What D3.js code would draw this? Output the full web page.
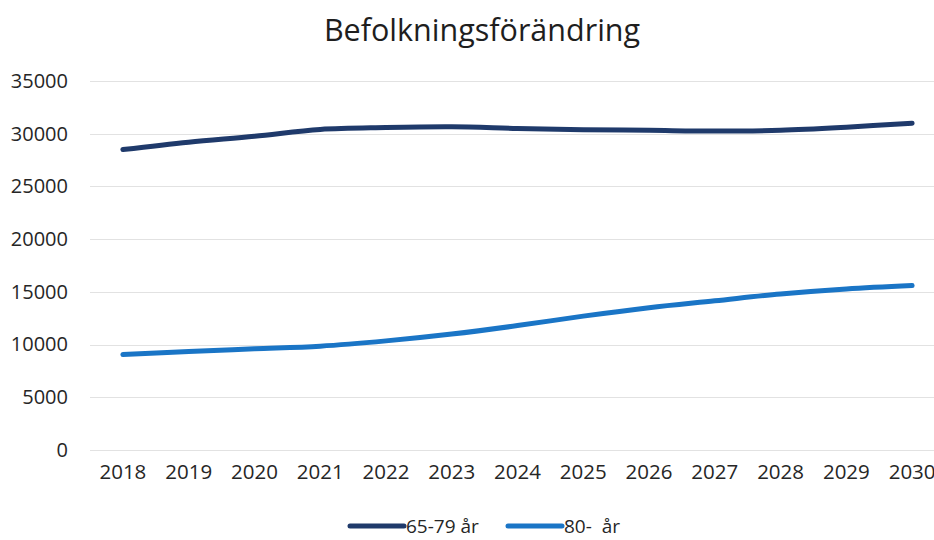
<!DOCTYPE html>
<html>
<head>
<meta charset="utf-8">
<script src="https://cdn.jsdelivr.net/npm/d3@7"></script>
<style>
  body { margin: 0; background: #fff; }
  svg { font-family: "Open Sans", sans-serif; }
</style>
</head>
<body>
<div class="viz"></div>
<script>
const years = [2018, 2019, 2020, 2021, 2022, 2023, 2024, 2025, 2026, 2027, 2028, 2029, 2030];
const aged6579 = [28500, 29200, 29750, 30400, 30580, 30650, 30500, 30380, 30320, 30250, 30330, 30620, 31000];
const aged80 = [9050, 9350, 9600, 9850, 10350, 11000, 11800, 12700, 13500, 14150, 14800, 15280, 15600];
const yTicks = [0, 5000, 10000, 15000, 20000, 25000, 30000, 35000];
const seriesNames = ["65-79 år", "80-  år"];
const title = "Befolkningsförändring";

const width = 934, height = 540;
const padding = { top: 81, bottom: 90, left: 90, right: -11 };

const series = [
  { name: seriesNames[0], values: aged6579, color: "#1f3a6b" },
  { name: seriesNames[1], values: aged80, color: "#1a75c6" }
];

var svg = d3.select(".viz")
  .append("svg")
  .attr("width", width)
  .attr("height", height);

var xscale = d3.scaleBand()
  .domain(years)
  .range([padding.left, width - padding.right]);

var yscale = d3.scaleLinear()
  .domain([0, 35000])
  .range([height - padding.bottom, padding.top]);

// gridlines
svg.append("g")
  .selectAll("line")
  .data(yTicks)
  .enter()
  .append("line")
  .attr("x1", padding.left)
  .attr("x2", width - padding.right)
  .attr("y1", (d) => Math.round(yscale(d)) + 0.5)
  .attr("y2", (d) => Math.round(yscale(d)) + 0.5)
  .style("stroke", "#e2e2e2")
  .style("stroke-width", 1);

// y axis
var yaxis = d3.axisLeft(yscale)
  .tickValues(yTicks)
  .tickSize(0)
  .tickPadding(22)
  .tickFormat(d3.format("d"));

svg.append("g")
  .attr("id", "y-axis")
  .attr("transform", "translate(" + padding.left + ",0)")
  .call(yaxis)
  .call((g) => g.select(".domain").remove())
  .selectAll("text")
  .style("font-size", "20px")
  .style("font-family", "Open Sans, sans-serif")
  .style("fill", "#262626");

// x axis (last label runs off the right edge, as in the original)
var xaxis = d3.axisBottom(xscale)
  .tickSize(0)
  .tickPadding(14);

svg.append("g")
  .attr("id", "x-axis")
  .attr("transform", "translate(0," + (height - padding.bottom) + ")")
  .call(xaxis)
  .call((g) => g.select(".domain").remove())
  .selectAll("text")
  .style("font-size", "20.5px")
  .style("font-family", "Open Sans, sans-serif")
  .style("fill", "#262626");

// lines
var line = d3.line()
  .x((d, i) => xscale(years[i]) + xscale.bandwidth() / 2)
  .y((d) => yscale(d))
  .curve(d3.curveCatmullRom.alpha(0.5));

svg.append("g")
  .selectAll("path")
  .data(series)
  .enter()
  .append("path")
  .attr("d", (d) => line(d.values))
  .style("fill", "none")
  .style("stroke", (d) => d.color)
  .style("stroke-width", 5)
  .style("stroke-linecap", "round");

// title
svg.append("text")
  .attr("x", 482)
  .attr("y", 41)
  .attr("text-anchor", "middle")
  .style("font-size", "30.5px")
  .style("fill", "#1e1e1e")
  .text(title);

// legend
var legendX = [350, 508];
var legend = svg.append("g").attr("id", "legend");
var items = legend.selectAll("g")
  .data(series)
  .enter()
  .append("g")
  .attr("transform", (d, i) => "translate(" + legendX[i] + ",526)");

items.append("line")
  .attr("x1", 0)
  .attr("x2", 54)
  .style("stroke", (d) => d.color)
  .style("stroke-width", 5)
  .style("stroke-linecap", "round");

items.append("text")
  .attr("x", 56)
  .attr("y", 7)
  .style("font-size", "19px")
  .style("fill", "#262626")
  .style("white-space", "pre")
  .text((d) => d.name);
</script>
</body>
</html>
